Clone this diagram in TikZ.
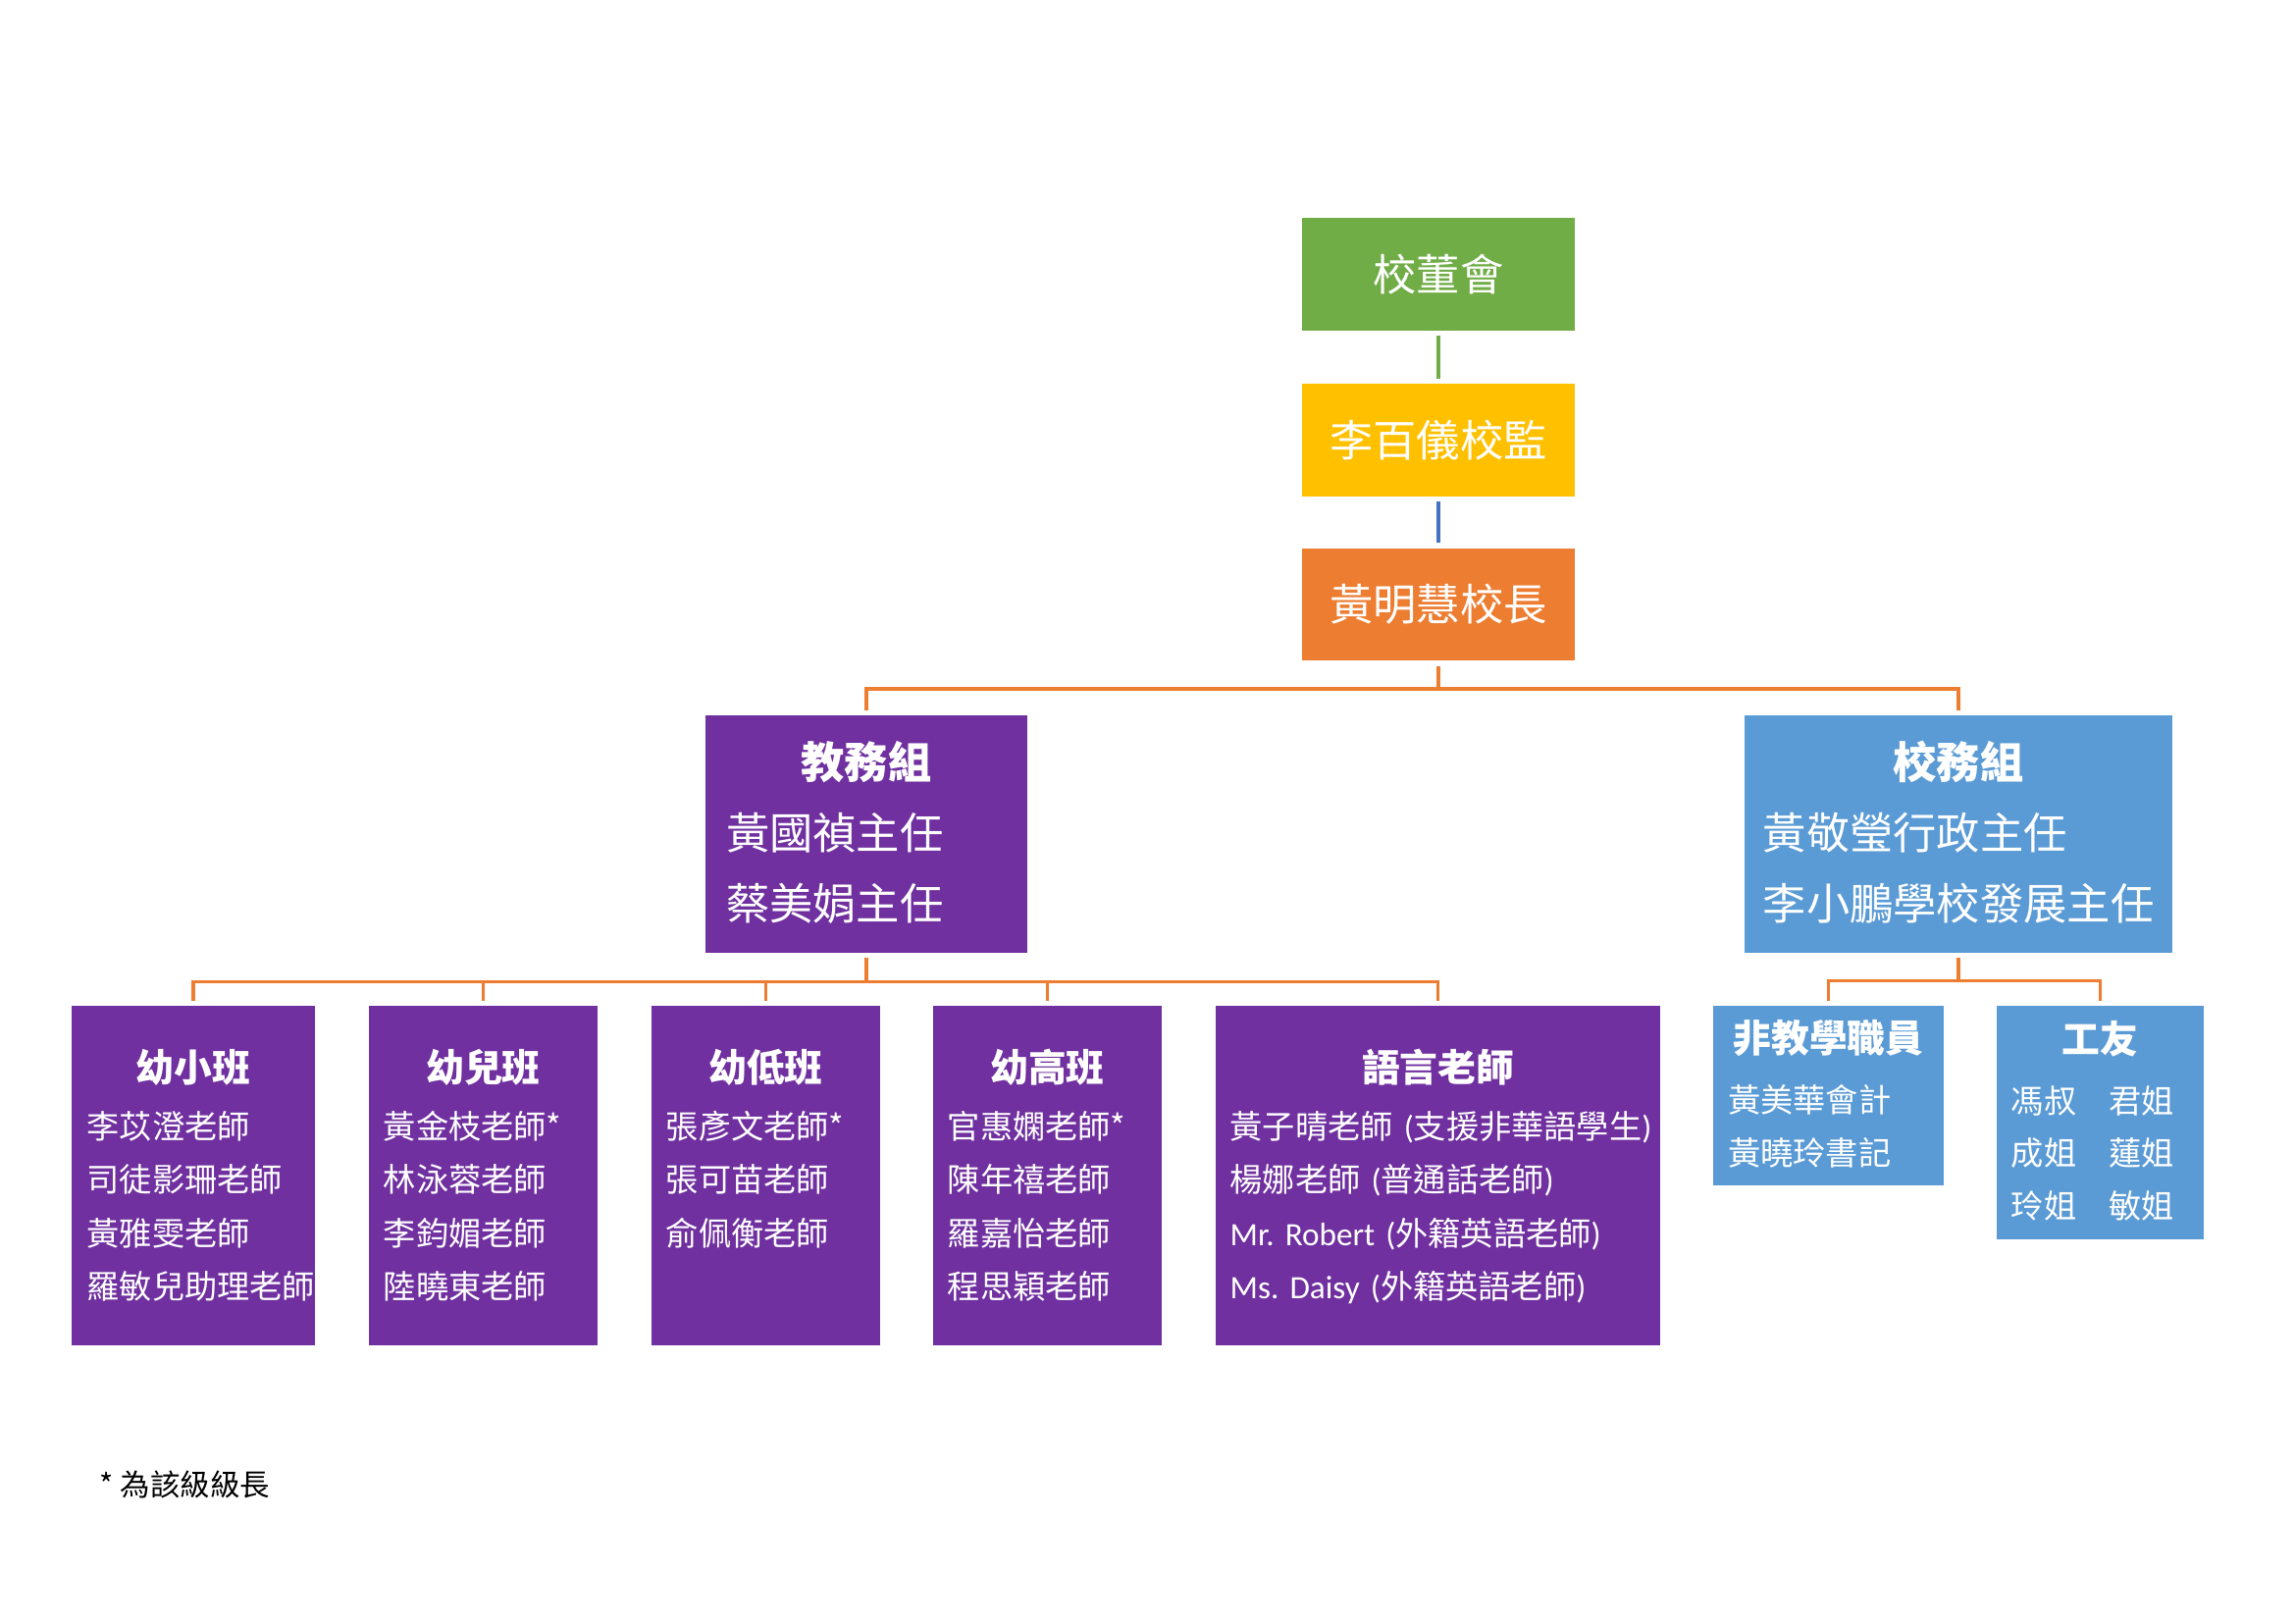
\documentclass[tikz,border=0pt]{standalone}
\usepackage{fontspec}
\setmainfont{Noto Sans CJK TC}
\newfontfamily\latfont{Carlito}
\usetikzlibrary{calc}
\definecolor{boardgreen}{HTML}{70AD47}
\definecolor{supyellow}{HTML}{FFC000}
\definecolor{headorange}{HTML}{ED7D31}
\definecolor{teampurple}{HTML}{7030A0}
\definecolor{teamblue}{HTML}{5B9BD5}
\definecolor{linkblue}{HTML}{4472C4}
\tikzset{
	box/.style={rectangle, inner sep=0pt, text=white},
	topbox/.style={box, minimum width=35.3mm, minimum height=14.6mm, font=\fontsize{16pt}{19pt}\selectfont},
	midbox/.style={box, fill=#1, minimum height=30.7mm},
	lowbox/.style={box, fill=teampurple, minimum height=44mm},
	subbox/.style={box, fill=teamblue},
	textbox/.style={inner sep=0pt, text=white, anchor=north, align=left},
	link/.style={line width=1.25pt, draw=headorange, shorten <=0.6mm, shorten >=0.6mm},
}
\def\boxtitle#1#2{{\centering\bfseries\fontsize{#1}{#1}\selectfont#2\par}}

\begin{document}
\begin{tikzpicture}[x=0.127mm, y=-0.127mm]
			%%%%% START %%%%%
			\useasboundingbox (0, 0) rectangle (2339, 1654);
			
			\node[topbox, fill=boardgreen] (board) at (1466, 279.5) {校董會};
			\node[topbox, fill=supyellow] (supervisor) at (1466, 448.5) {李百儀校監};
			\node[topbox, fill=headorange] (principal) at (1466, 616) {黃明慧校長};
			
			\node[midbox=teampurple, minimum width=41.7mm] (acad) at (883, 850) {};
			\node[textbox, text width=36.3mm, font=\fontsize{16pt}{26pt}\selectfont] (acadtext) at ([yshift=-3.3mm]acad.north) {\boxtitle{16pt}{教務組}黃國禎主任\\蔡美娟主任};
			
			\node[midbox=teamblue, minimum width=55.3mm] (admin) at (1996, 850) {};
			\node[textbox, text width=50.6mm, font=\fontsize{16pt}{26pt}\selectfont] (admintext) at ([yshift=-3.3mm]admin.north) {\boxtitle{16pt}{校務組}黃敬瑩行政主任\\李小鵬學校發展主任};
			
			\node[lowbox, minimum width=31.5mm] (nursery) at (197, 1198) {};
			\node[textbox, text width=27.5mm, font=\fontsize{12pt}{19.7pt}\selectfont] (nurserytext) at ([yshift=-5.6mm]nursery.north) {\boxtitle{14pt}{幼小班}\vspace{1.2pt}李苡澄老師\\司徒影珊老師\\黃雅雯老師\\羅敏兒助理老師};
			
			\node[lowbox, minimum width=29.6mm] (kone) at (492.5, 1198) {};
			\node[textbox, text width=25.8mm, font=\fontsize{12pt}{19.7pt}\selectfont] (konetext) at ([yshift=-5.6mm]kone.north) {\boxtitle{14pt}{幼兒班}\vspace{1.2pt}黃金枝老師*\\林泳蓉老師\\李鈞媚老師\\陸曉東老師};
			
			\node[lowbox, minimum width=29.6mm] (ktwo) at (780.5, 1198) {};
			\node[textbox, text width=25.8mm, font=\fontsize{12pt}{19.7pt}\selectfont] (ktwotext) at ([yshift=-5.6mm]ktwo.north) {\boxtitle{14pt}{幼低班}\vspace{1.2pt}張彥文老師*\\張可苗老師\\俞佩衡老師};
			
			\node[lowbox, minimum width=29.6mm] (kthree) at (1067.5, 1198) {};
			\node[textbox, text width=25.8mm, font=\fontsize{12pt}{19.7pt}\selectfont] (kthreetext) at ([yshift=-5.6mm]kthree.north) {\boxtitle{14pt}{幼高班}\vspace{1.2pt}官惠嫻老師*\\陳年禧老師\\羅嘉怡老師\\程思穎老師};
			
			\node[lowbox, minimum width=57.5mm] (lang) at (1465.5, 1198) {};
			\node[textbox, text width=53.8mm, font=\fontsize{12pt}{19.7pt}\selectfont] (langtext) at ([yshift=-5.6mm]lang.north) {\boxtitle{14pt}{語言老師}\vspace{1.2pt}黃子晴老師~{\latfont(}支援非華語學生{\latfont)}\\楊娜老師~{\latfont(}普通話老師{\latfont)}\\{\latfont Mr.\ Robert~(}外籍英語老師{\latfont)}\\{\latfont Ms.\ Daisy~(}外籍英語老師{\latfont)}};
			
			\node[subbox, minimum width=29.8mm, minimum height=23.3mm] (staff) at (1863.5, 1116.5) {};
			\node[textbox, text width=26.0mm, font=\fontsize{12pt}{19.4pt}\selectfont] (stafftext) at ([yshift=-1.9mm]staff.north) {\boxtitle{14pt}{非教學職員}\vspace{2.6pt}黃美華會計\\黃曉玲書記};
			
			\node[subbox, minimum width=26.8mm, minimum height=30.2mm] (worker) at (2140.5, 1144) {};
			\node[textbox, text width=23.0mm, font=\fontsize{12pt}{19.4pt}\selectfont] (workertext) at ([yshift=-1.9mm]worker.north) {\boxtitle{14pt}{工友}\vspace{2.6pt}馮叔\quad 君姐\\成姐\quad 蓮姐\\玲姐\quad 敏姐};
			
			\draw[link, draw=boardgreen] (board.south) -- (supervisor.north);
			\draw[link, draw=linkblue] (supervisor.south) -- (principal.north);
			\draw[link] (principal.south) -- ++(0, 28) -| (acad.north);
			\draw[link] (principal.south) -- ++(0, 28) -| (admin.north);
			
			\draw[link] (acad.south) -- ++(0, 29) -| (nursery.north);
			\draw[link] (acad.south) -- ++(0, 29) -| (kone.north);
			\draw[link] (acad.south) -- ++(0, 29) -| (ktwo.north);
			\draw[link] (acad.south) -- ++(0, 29) -| (kthree.north);
			\draw[link] (acad.south) -- ++(0, 29) -| (lang.north);
			
			\draw[link] (admin.south) -- ++(0, 28) -| (staff.north);
			\draw[link] (admin.south) -- ++(0, 28) -| (worker.north);
			
			\node[anchor=west, font=\fontsize{11pt}{13pt}\selectfont] (note) at (92, 1513) {* 為該級級長};
			%%%%% END %%%%%
\end{tikzpicture}
\end{document}
